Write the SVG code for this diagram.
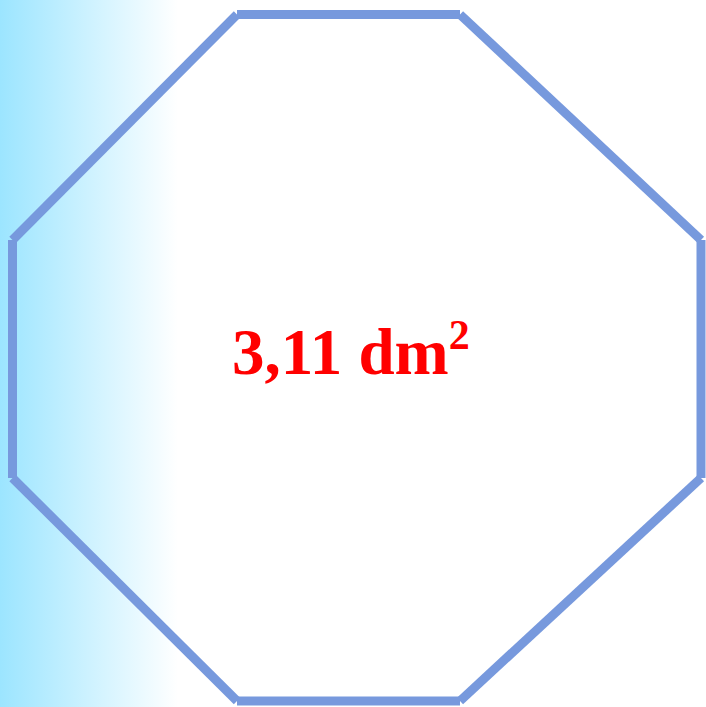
<svg xmlns="http://www.w3.org/2000/svg" width="706" height="707" viewBox="0 0 706 707">
<defs>
<linearGradient id="bg" x1="0" y1="0" x2="1" y2="0">
<stop offset="0" stop-color="#9ce5ff"/>
<stop offset="1" stop-color="#ffffff"/>
</linearGradient>
<style>
.edge{stroke:#7799dd;stroke-width:9;stroke-linecap:butt;fill:none}
.lbl{font-family:"Liberation Serif","Times New Roman",serif;font-weight:bold;fill:#ff0000}
</style>
</defs>
<rect width="706" height="707" fill="#ffffff"/>
<rect x="0" y="0" width="178" height="707" fill="url(#bg)"/>
<g id="octagon">
<line class="edge" x1="237" y1="14.5" x2="460" y2="14.5"/>
<line class="edge" x1="460" y1="14.5" x2="701" y2="240"/>
<line class="edge" x1="701" y1="240" x2="701" y2="478"/>
<line class="edge" x1="701" y1="478" x2="460" y2="701"/>
<line class="edge" x1="460" y1="701" x2="237" y2="701"/>
<line class="edge" x1="237" y1="701" x2="12.5" y2="478"/>
<line class="edge" x1="12.5" y1="478" x2="12.5" y2="240"/>
<line class="edge" x1="12.5" y1="240" x2="237" y2="14.5"/>
</g>
<g id="label">
<text class="lbl" x="232" y="374" font-size="65">3,11 dm<tspan font-size="42" dy="-25">2</tspan></text>
</g>
</svg>
